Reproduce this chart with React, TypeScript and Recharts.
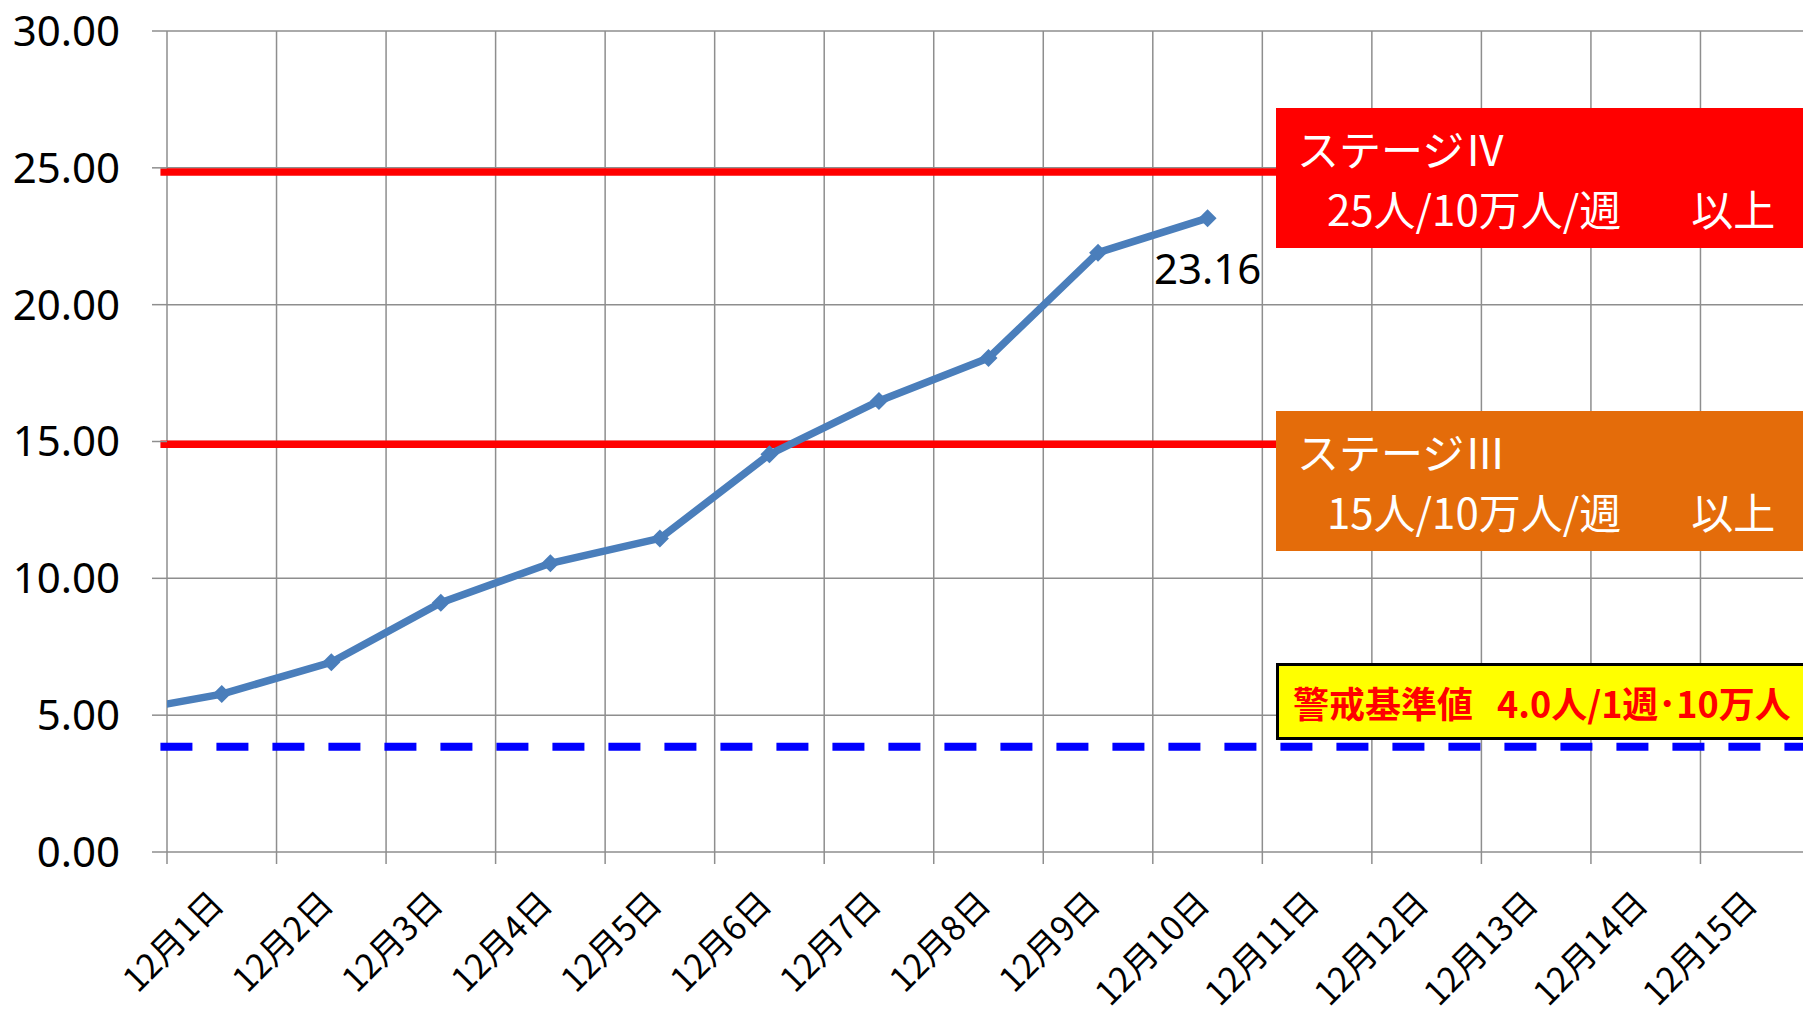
import { LineChart, Line, XAxis, YAxis, CartesianGrid, ReferenceLine } from "recharts";

const days = [
  "12月1日", "12月2日", "12月3日", "12月4日", "12月5日",
  "12月6日", "12月7日", "12月8日", "12月9日", "12月10日",
  "12月11日", "12月12日", "12月13日", "12月14日", "12月15日",
];
// 11月30日 sits just left of the axis, only its segment shows
const prevValue = 5.05;
const values = [5.77, 6.93, 9.11, 10.55, 11.46, 14.53, 16.48, 18.05, 21.9, 23.16];
const yTicks = [0, 5, 10, 15, 20, 25, 30];
const stage4Line = 24.85;
const stage3Line = 14.9;
const alertLine = 3.85;
const labelledDay = "12月10日";

const data = [{ x: 0, v: prevValue }, ...values.map((v, i) => ({ x: i + 1, v }))];
const dayTicks = days.map((_, i) => i + 1);
const gridTicks = [0.5, ...days.map((_, i) => i + 1.5)];
const lineStart = 0.44;

const BLUE = "#4a7ebb";
const GRID = "#8e8e8e";
const LATIN = "'Noto Sans', 'Noto Sans CJK JP', sans-serif";
const CJK = "'Noto Sans CJK JP', sans-serif";

function DayTick({ x, y, payload }: any) {
  return (
    <g transform={`translate(${x + 4},${y + 53})`}>
      <text textAnchor="end" transform="rotate(-45)" fontSize={34} fontFamily={CJK} fill="#000">
        {days[payload.value - 1]}
      </text>
    </g>
  );
}

function EmptyTick() {
  return <g />;
}

function Diamond({ cx, cy, index }: any) {
  if (cx == null || cy == null) return <g key={index} />;
  const r = 9;
  return (
    <path
      key={index}
      d={`M${cx},${cy - r}L${cx + r},${cy}L${cx},${cy + r}L${cx - r},${cy}Z`}
      fill={BLUE}
    />
  );
}

function ValueLabel({ x, y, index, value }: any) {
  if (data[index]?.x !== days.indexOf(labelledDay) + 1) return <g key={index} />;
  return (
    <text key={index} x={x} y={y + 66} textAnchor="middle" fontSize={42} fontFamily={LATIN} fill="#000">
      {Number(value).toFixed(2)}
    </text>
  );
}

const stageBox = {
  position: "absolute" as const,
  left: 1276,
  width: 560,
  height: 140,
  boxSizing: "border-box" as const,
  paddingTop: 10,
  paddingLeft: 21,
  color: "#fff",
  fontSize: 42,
  lineHeight: "60px",
  fontFamily: CJK,
  whiteSpace: "nowrap" as const,
};

export default function App() {
  return (
    <div style={{ position: "fixed", left: 0, top: 0, width: 1803, height: 1009, overflow: "hidden", background: "#fff" }}>
      <LineChart width={1810} height={1009} data={data} margin={{ top: 31, right: 0, left: 0, bottom: 0 }}>
        <CartesianGrid
          xAxisId="main"
          yAxisId="y"
          stroke={GRID}
          strokeWidth={1.5}
          verticalValues={gridTicks}
          horizontalValues={yTicks}
        />
        <XAxis
          xAxisId="grid"
          type="number"
          dataKey="x"
          domain={[0.5, 15.5]}
          ticks={gridTicks}
          allowDataOverflow
          height={1}
          tick={<EmptyTick />}
          tickSize={12}
          tickLine={{ stroke: GRID, strokeWidth: 1.5 }}
          axisLine={false}
          interval={0}
        />
        <XAxis
          xAxisId="main"
          type="number"
          dataKey="x"
          domain={[0.5, 15.5]}
          ticks={dayTicks}
          allowDataOverflow
          height={156}
          tickLine={false}
          tickSize={0}
          tickMargin={0}
          axisLine={false}
          tick={<DayTick />}
          interval={0}
        />
        <YAxis
          yAxisId="y"
          width={167}
          domain={[0, 30]}
          ticks={yTicks}
          axisLine={false}
          tickSize={15}
          tickMargin={32}
          tickLine={{ stroke: GRID, strokeWidth: 1.5 }}
          tick={{ fontSize: 42, fill: "#000", fontFamily: LATIN }}
          tickFormatter={(v: number) => v.toFixed(2)}
          interval={0}
        />
        <ReferenceLine
          xAxisId="main"
          yAxisId="y"
          segment={[{ x: lineStart, y: stage4Line }, { x: 15.5, y: stage4Line }]}
          ifOverflow="visible"
          stroke="#ff0000"
          strokeWidth={7.5}
        />
        <ReferenceLine
          xAxisId="main"
          yAxisId="y"
          segment={[{ x: lineStart, y: stage3Line }, { x: 15.5, y: stage3Line }]}
          ifOverflow="visible"
          stroke="#ff0000"
          strokeWidth={7.5}
        />
        <ReferenceLine
          xAxisId="main"
          yAxisId="y"
          segment={[{ x: lineStart, y: alertLine }, { x: 15.5, y: alertLine }]}
          ifOverflow="visible"
          stroke="#0000ff"
          strokeWidth={8}
          strokeDasharray="32 24"
        />
        <Line
          xAxisId="main"
          yAxisId="y"
          type="linear"
          dataKey="v"
          stroke={BLUE}
          strokeWidth={7.5}
          dot={<Diamond />}
          activeDot={false}
          label={<ValueLabel />}
          isAnimationActive={false}
        />
      </LineChart>

      <div style={{ ...stageBox, top: 108, background: "#ff0000" }}>
        <div>ステージⅣ</div>
        <div style={{ paddingLeft: 30 }}>
          25人/10万人/週<span style={{ marginLeft: 70 }}>以上</span>
        </div>
      </div>
      <div style={{ ...stageBox, top: 411, background: "#e46c0a" }}>
        <div>ステージⅢ</div>
        <div style={{ paddingLeft: 30 }}>
          15人/10万人/週<span style={{ marginLeft: 70 }}>以上</span>
        </div>
      </div>
      <div
        style={{
          position: "absolute",
          left: 1276,
          top: 663,
          width: 560,
          height: 77,
          boxSizing: "border-box",
          border: "3px solid #000",
          background: "#ffff00",
          display: "flex",
          alignItems: "center",
          paddingLeft: 14,
          color: "#ff0000",
          fontWeight: "bold",
          fontSize: 36,
          fontFamily: CJK,
          whiteSpace: "nowrap",
        }}
      >
        <span>警戒基準値</span>
        <span style={{ marginLeft: 24 }}>4.0人/1週･10万人</span>
      </div>
    </div>
  );
}
